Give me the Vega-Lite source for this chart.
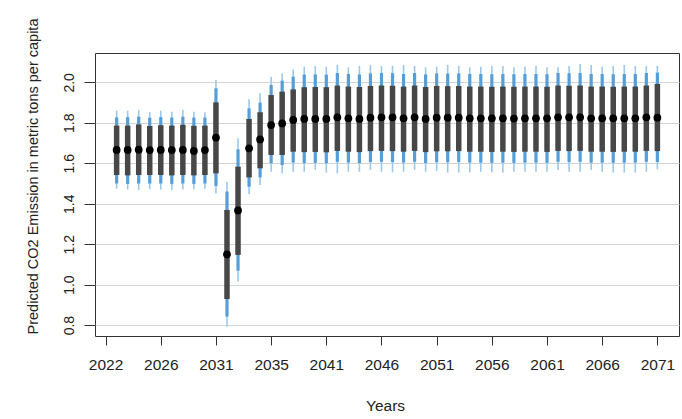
{
  "$schema": "https://vega.github.io/schema/vega-lite/v6.json",
  "width": 584,
  "height": 283,
  "autosize": {"type": "none"},
  "padding": {"left": 95, "top": 53, "right": 3, "bottom": 83},
  "background": "white",
  "config": {
    "view": {"stroke": "#333333", "strokeWidth": 1},
    "font": "Liberation Sans",
    "axisY": {
      "grid": true,
      "gridColor": "#d4d4d4",
      "gridWidth": 1,
      "domain": false,
      "tickSize": 11,
      "tickColor": "#333333",
      "labelAngle": 270,
      "labelAlign": "center",
      "labelBaseline": "bottom",
      "labelPadding": 8,
      "labelFontSize": 14,
      "labelColor": "#222222",
      "labelFlush": false,
      "labelOverlap": false,
      "titleFontSize": 14.5,
      "titleFontWeight": "normal",
      "titleColor": "#222222",
      "titleAngle": 270,
      "titleX": -62,
      "titleY": 123,
      "titleAlign": "center",
      "titleBaseline": "middle"
    }
  },
  "data": {
    "values": [
      {"year": 2022, "med": 1.666, "lo50": 1.542, "hi50": 1.786, "lo80": 1.500, "hi80": 1.827, "lo95": 1.474, "hi95": 1.860},
      {"year": 2023, "med": 1.666, "lo50": 1.540, "hi50": 1.786, "lo80": 1.498, "hi80": 1.828, "lo95": 1.470, "hi95": 1.860},
      {"year": 2024, "med": 1.667, "lo50": 1.542, "hi50": 1.792, "lo80": 1.500, "hi80": 1.830, "lo95": 1.468, "hi95": 1.863},
      {"year": 2025, "med": 1.665, "lo50": 1.542, "hi50": 1.784, "lo80": 1.500, "hi80": 1.825, "lo95": 1.472, "hi95": 1.853},
      {"year": 2026, "med": 1.666, "lo50": 1.542, "hi50": 1.788, "lo80": 1.500, "hi80": 1.828, "lo95": 1.470, "hi95": 1.860},
      {"year": 2027, "med": 1.665, "lo50": 1.540, "hi50": 1.786, "lo80": 1.498, "hi80": 1.826, "lo95": 1.468, "hi95": 1.855},
      {"year": 2028, "med": 1.666, "lo50": 1.542, "hi50": 1.790, "lo80": 1.500, "hi80": 1.830, "lo95": 1.470, "hi95": 1.863},
      {"year": 2029, "med": 1.661, "lo50": 1.540, "hi50": 1.785, "lo80": 1.498, "hi80": 1.826, "lo95": 1.472, "hi95": 1.855},
      {"year": 2030, "med": 1.665, "lo50": 1.542, "hi50": 1.786, "lo80": 1.500, "hi80": 1.826, "lo95": 1.474, "hi95": 1.852},
      {"year": 2031, "med": 1.727, "lo50": 1.550, "hi50": 1.901, "lo80": 1.488, "hi80": 1.970, "lo95": 1.451, "hi95": 2.012},
      {"year": 2032, "med": 1.150, "lo50": 0.929, "hi50": 1.369, "lo80": 0.842, "hi80": 1.460, "lo95": 0.792, "hi95": 1.509},
      {"year": 2033, "med": 1.367, "lo50": 1.147, "hi50": 1.583, "lo80": 1.069, "hi80": 1.669, "lo95": 1.015, "hi95": 1.723},
      {"year": 2034, "med": 1.674, "lo50": 1.530, "hi50": 1.819, "lo80": 1.484, "hi80": 1.871, "lo95": 1.448, "hi95": 1.916},
      {"year": 2035, "med": 1.718, "lo50": 1.575, "hi50": 1.852, "lo80": 1.530, "hi80": 1.900, "lo95": 1.493, "hi95": 1.946},
      {"year": 2036, "med": 1.789, "lo50": 1.641, "hi50": 1.937, "lo80": 1.600, "hi80": 1.987, "lo95": 1.558, "hi95": 2.028},
      {"year": 2037, "med": 1.797, "lo50": 1.641, "hi50": 1.954, "lo80": 1.591, "hi80": 2.008, "lo95": 1.550, "hi95": 2.044},
      {"year": 2038, "med": 1.814, "lo50": 1.657, "hi50": 1.965, "lo80": 1.603, "hi80": 2.028, "lo95": 1.558, "hi95": 2.064},
      {"year": 2039, "med": 1.819, "lo50": 1.655, "hi50": 1.976, "lo80": 1.601, "hi80": 2.038, "lo95": 1.558, "hi95": 2.077},
      {"year": 2040, "med": 1.819, "lo50": 1.656, "hi50": 1.977, "lo80": 1.602, "hi80": 2.039, "lo95": 1.567, "hi95": 2.081},
      {"year": 2041, "med": 1.819, "lo50": 1.654, "hi50": 1.976, "lo80": 1.600, "hi80": 2.038, "lo95": 1.554, "hi95": 2.077},
      {"year": 2042, "med": 1.827, "lo50": 1.661, "hi50": 1.984, "lo80": 1.607, "hi80": 2.046, "lo95": 1.550, "hi95": 2.086},
      {"year": 2043, "med": 1.822, "lo50": 1.657, "hi50": 1.979, "lo80": 1.603, "hi80": 2.041, "lo95": 1.558, "hi95": 2.074},
      {"year": 2044, "med": 1.819, "lo50": 1.655, "hi50": 1.977, "lo80": 1.601, "hi80": 2.039, "lo95": 1.558, "hi95": 2.081},
      {"year": 2045, "med": 1.825, "lo50": 1.660, "hi50": 1.982, "lo80": 1.606, "hi80": 2.044, "lo95": 1.567, "hi95": 2.086},
      {"year": 2046, "med": 1.827, "lo50": 1.661, "hi50": 1.984, "lo80": 1.607, "hi80": 2.046, "lo95": 1.558, "hi95": 2.081},
      {"year": 2047, "med": 1.827, "lo50": 1.660, "hi50": 1.983, "lo80": 1.606, "hi80": 2.045, "lo95": 1.555, "hi95": 2.081},
      {"year": 2048, "med": 1.822, "lo50": 1.657, "hi50": 1.979, "lo80": 1.603, "hi80": 2.041, "lo95": 1.558, "hi95": 2.086},
      {"year": 2049, "med": 1.827, "lo50": 1.661, "hi50": 1.984, "lo80": 1.607, "hi80": 2.046, "lo95": 1.567, "hi95": 2.081},
      {"year": 2050, "med": 1.819, "lo50": 1.655, "hi50": 1.977, "lo80": 1.601, "hi80": 2.039, "lo95": 1.558, "hi95": 2.074},
      {"year": 2051, "med": 1.825, "lo50": 1.659, "hi50": 1.982, "lo80": 1.605, "hi80": 2.044, "lo95": 1.562, "hi95": 2.077},
      {"year": 2052, "med": 1.825, "lo50": 1.659, "hi50": 1.981, "lo80": 1.605, "hi80": 2.043, "lo95": 1.554, "hi95": 2.086},
      {"year": 2053, "med": 1.825, "lo50": 1.660, "hi50": 1.982, "lo80": 1.606, "hi80": 2.044, "lo95": 1.554, "hi95": 2.081},
      {"year": 2054, "med": 1.822, "lo50": 1.657, "hi50": 1.979, "lo80": 1.603, "hi80": 2.041, "lo95": 1.555, "hi95": 2.074},
      {"year": 2055, "med": 1.822, "lo50": 1.657, "hi50": 1.979, "lo80": 1.603, "hi80": 2.041, "lo95": 1.558, "hi95": 2.077},
      {"year": 2056, "med": 1.822, "lo50": 1.656, "hi50": 1.978, "lo80": 1.602, "hi80": 2.040, "lo95": 1.554, "hi95": 2.081},
      {"year": 2057, "med": 1.822, "lo50": 1.657, "hi50": 1.979, "lo80": 1.603, "hi80": 2.041, "lo95": 1.554, "hi95": 2.081},
      {"year": 2058, "med": 1.821, "lo50": 1.656, "hi50": 1.978, "lo80": 1.602, "hi80": 2.040, "lo95": 1.558, "hi95": 2.074},
      {"year": 2059, "med": 1.822, "lo50": 1.657, "hi50": 1.979, "lo80": 1.603, "hi80": 2.041, "lo95": 1.558, "hi95": 2.077},
      {"year": 2060, "med": 1.822, "lo50": 1.657, "hi50": 1.979, "lo80": 1.603, "hi80": 2.041, "lo95": 1.558, "hi95": 2.081},
      {"year": 2061, "med": 1.822, "lo50": 1.656, "hi50": 1.978, "lo80": 1.602, "hi80": 2.040, "lo95": 1.558, "hi95": 2.074},
      {"year": 2062, "med": 1.827, "lo50": 1.661, "hi50": 1.984, "lo80": 1.607, "hi80": 2.046, "lo95": 1.567, "hi95": 2.074},
      {"year": 2063, "med": 1.827, "lo50": 1.660, "hi50": 1.983, "lo80": 1.606, "hi80": 2.045, "lo95": 1.558, "hi95": 2.081},
      {"year": 2064, "med": 1.827, "lo50": 1.661, "hi50": 1.984, "lo80": 1.607, "hi80": 2.046, "lo95": 1.558, "hi95": 2.091},
      {"year": 2065, "med": 1.822, "lo50": 1.657, "hi50": 1.979, "lo80": 1.603, "hi80": 2.041, "lo95": 1.567, "hi95": 2.086},
      {"year": 2066, "med": 1.822, "lo50": 1.657, "hi50": 1.979, "lo80": 1.603, "hi80": 2.041, "lo95": 1.558, "hi95": 2.077},
      {"year": 2067, "med": 1.822, "lo50": 1.656, "hi50": 1.978, "lo80": 1.602, "hi80": 2.040, "lo95": 1.554, "hi95": 2.081},
      {"year": 2068, "med": 1.822, "lo50": 1.657, "hi50": 1.979, "lo80": 1.603, "hi80": 2.041, "lo95": 1.554, "hi95": 2.086},
      {"year": 2069, "med": 1.822, "lo50": 1.657, "hi50": 1.979, "lo80": 1.603, "hi80": 2.041, "lo95": 1.554, "hi95": 2.081},
      {"year": 2070, "med": 1.827, "lo50": 1.661, "hi50": 1.984, "lo80": 1.607, "hi80": 2.046, "lo95": 1.558, "hi95": 2.081},
      {"year": 2071, "med": 1.825, "lo50": 1.660, "hi50": 1.992, "lo80": 1.606, "hi80": 2.048, "lo95": 1.570, "hi95": 2.081}
    ]
  },
  "encoding": {
    "x": {
      "field": "year",
      "type": "quantitative",
      "scale": {"domain": [2020.04, 2072.96], "nice": false, "zero": false},
      "axis": {
        "values": [2021, 2026, 2031, 2036, 2041, 2046, 2051, 2056, 2061, 2066, 2071],
        "labelExpr": "['2022','2026','2031','2035','2041','2046','2051','2056','2061','2066','2071'][round((datum.value-2021)/5)]",
        "grid": false,
        "domain": false,
        "ticks": true,
        "tickSize": 9,
        "tickColor": "#333333",
        "labelFontSize": 15.5,
        "labelColor": "#222222",
        "labelPadding": 12,
        "labelFlush": false,
        "labelOverlap": false,
        "title": "Years",
        "titleFontSize": 15.5,
        "titleFontWeight": "normal",
        "titleColor": "#222222",
        "titleX": 290,
        "titleY": 69,
        "titleAlign": "center",
        "titleBaseline": "middle"
      }
    },
    "y": {
      "field": "lo95",
      "type": "quantitative",
      "title": "Predicted CO2 Emission in metric tons per capita",
      "scale": {"domain": [0.746, 2.145], "nice": false, "zero": false},
      "axis": {
        "values": [0.8, 1.0, 1.2, 1.4, 1.6, 1.8, 2.0],
        "format": ".1f"
      }
    }
  },
  "layer": [
    {
      "mark": {"type": "rule", "color": "#9cc8ec", "strokeWidth": 1.6},
      "encoding": {
        "y2": {"field": "hi95"}
      }
    },
    {
      "mark": {"type": "rule", "color": "#559ed8", "strokeWidth": 3.2},
      "encoding": {
        "y": {"field": "lo80", "type": "quantitative", "title": "Predicted CO2 Emission in metric tons per capita"},
        "y2": {"field": "hi80"}
      }
    },
    {
      "mark": {"type": "rule", "color": "#474747", "strokeWidth": 5.5},
      "encoding": {
        "y": {"field": "lo50", "type": "quantitative", "title": "Predicted CO2 Emission in metric tons per capita"},
        "y2": {"field": "hi50"}
      }
    },
    {
      "mark": {"type": "point", "filled": true, "color": "#000000", "opacity": 1, "size": 60},
      "encoding": {
        "y": {"field": "med", "type": "quantitative", "title": "Predicted CO2 Emission in metric tons per capita"}
      }
    }
  ]
}
